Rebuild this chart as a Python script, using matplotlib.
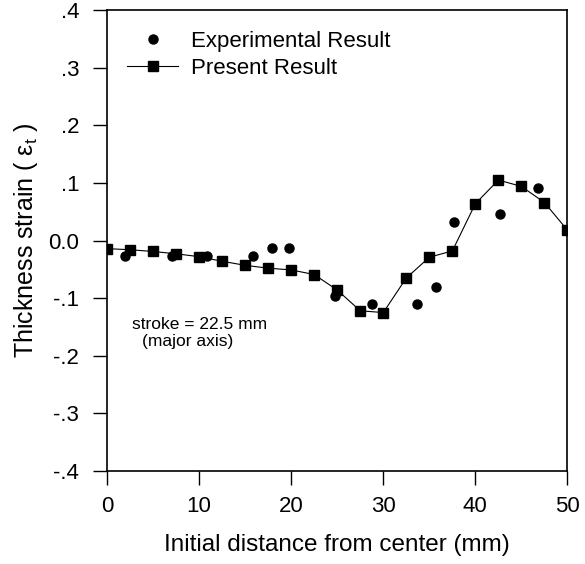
import matplotlib
matplotlib.use("Agg")
import matplotlib.pyplot as plt

plt.rcParams['font.family'] = ['Liberation Sans', 'DejaVu Sans']
plt.rcParams['mathtext.fontset'] = 'custom'
plt.rcParams['mathtext.rm'] = 'Liberation Sans'
plt.rcParams['mathtext.it'] = 'Liberation Sans:italic'

# present result (FE), every 2.5 mm
present_x = [0, 2.5, 5, 7.5, 10, 12.5, 15, 17.5, 20, 22.5, 25, 27.5, 30,
             32.5, 35, 37.5, 40, 42.5, 45, 47.5, 50]
present_y = [-0.014, -0.016, -0.019, -0.023, -0.028, -0.036, -0.043, -0.048,
             -0.051, -0.059, -0.086, -0.122, -0.125, -0.065, -0.029, -0.018,
             0.064, 0.105, 0.094, 0.066, 0.018]

# experimental points
exp_x = [2.0, 7.0, 10.9, 15.9, 17.9, 19.8, 24.8, 28.8, 33.7, 35.7, 37.7,
         42.7, 46.8, 50]
exp_y = [-0.026, -0.026, -0.026, -0.026, -0.013, -0.013, -0.096, -0.110,
         -0.110, -0.081, 0.033, 0.046, 0.092, 0.018]

yticks = [-0.4, -0.3, -0.2, -0.1, 0.0, 0.1, 0.2, 0.3, 0.4]
ytick_labels = ['-.4', '-.3', '-.2', '-.1', '0.0', '.1', '.2', '.3', '.4']
xticks = [0, 10, 20, 30, 40, 50]

fig = plt.figure(figsize=(5.85, 5.64), dpi=100)
ax = fig.add_axes([0.183, 0.165, 0.787, 0.817])

ax.plot(exp_x, exp_y, 'o', color='black', markersize=6.5, linestyle='none',
        label='Experimental Result')
ax.plot(present_x, present_y, '-s', color='black', markersize=6.5,
        linewidth=0.8, label='Present Result')

ax.set_xlim(0, 50)
ax.set_ylim(-0.4, 0.4)
ax.set_xticks(xticks)
ax.set_yticks(yticks)
ax.set_yticklabels(ytick_labels)
ax.tick_params(direction='out', length=10, width=1, labelsize=16)
ax.tick_params(axis='x', pad=8)
ax.tick_params(axis='y', pad=10)
for s in ax.spines.values():
    s.set_linewidth(1.2)

ax.set_xlabel('Initial distance from center (mm)', fontsize=17.5, labelpad=12)
ax.set_ylabel(r'Thickness strain ( ε$_\mathregular{t}$ )', fontsize=18, labelpad=6)

ax.legend(loc='upper left', bbox_to_anchor=(0.0, 0.998), frameon=False,
          fontsize=16, handlelength=2.3, handletextpad=0.6,
          labelspacing=0.25)

ax.text(2.7, -0.146, 'stroke = 22.5 mm', fontsize=12.5, va='center')
ax.text(3.75, -0.176, '(major axis)', fontsize=12.5, va='center')

fig.savefig('out.png', dpi=100)
